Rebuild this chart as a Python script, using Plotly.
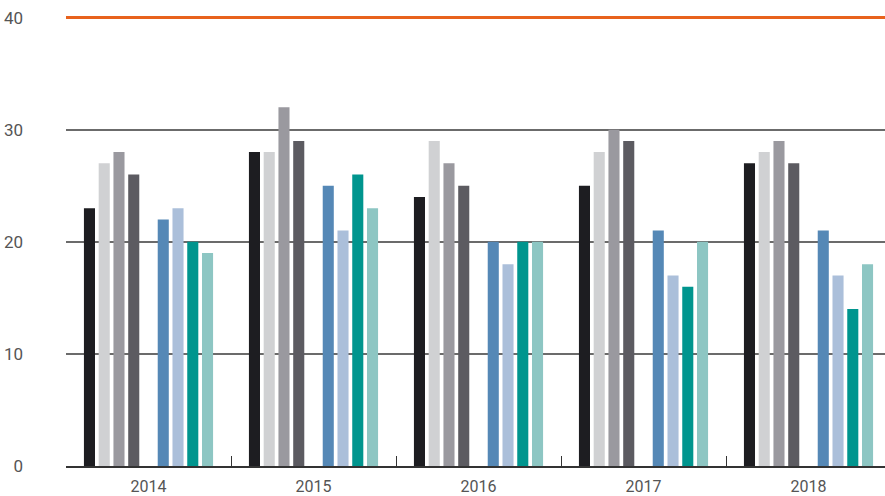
import plotly.graph_objects as go

years = ["2014", "2015", "2016", "2017", "2018"]

gray_1 = [23, 28, 24, 25, 27]
gray_2 = [27, 28, 29, 28, 28]
gray_3 = [28, 32, 27, 30, 29]
gray_4 = [26, 29, 25, 29, 27]

color_1 = [22, 25, 20, 21, 21]
color_2 = [23, 21, 18, 17, 17]
color_3 = [20, 26, 20, 16, 14]
color_4 = [19, 23, 20, 20, 18]

target_value = 40
y_ticks = [0, 10, 20, 30, 40]

series = [
    ("gray_1", gray_1, "#1d1d21"),
    ("gray_2", gray_2, "#d0d1d3"),
    ("gray_3", gray_3, "#9a999f"),
    ("gray_4", gray_4, "#5c5b61"),
    ("gap", [None] * len(years), "rgba(0,0,0,0)"),
    ("color_1", color_1, "#5588b6"),
    ("color_2", color_2, "#abbfda"),
    ("color_3", color_3, "#00958e"),
    ("color_4", color_4, "#8dc6c3"),
]

fig = go.Figure()
for name, vals, col in series:
    fig.add_trace(go.Bar(
        x=years, y=vals, name=name, marker_color=col,
        marker_line_width=0, showlegend=False, hoverinfo="skip" if name == "gap" else None,
    ))

fig.add_shape(type="line", xref="paper", x0=0, x1=1, yref="y",
              y0=target_value, y1=target_value,
              line=dict(color="#e8621c", width=3), layer="above")

font_family = "Roboto, 'Noto Sans', sans-serif"

fig.update_layout(
    width=885, height=496,
    margin=dict(l=66, r=0, t=12, b=30, autoexpand=False),
    paper_bgcolor="white", plot_bgcolor="white",
    barmode="group", bargap=0.195, bargroupgap=0.25,
    font=dict(family=font_family, size=16, color="#555555"),
    xaxis=dict(
        type="category", range=[-0.5, 4.4636], automargin=False,
        tickson="boundaries", ticks="inside", ticklen=10, tickwidth=1.2,
        tickcolor="#333333", showgrid=False,
        showline=True, linecolor="#333333", linewidth=1.5,
        tickfont=dict(size=16, color="#555555"), ticklabelstandoff=5,
    ),
    yaxis=dict(
        range=[0, 40.5], tickvals=y_ticks, showgrid=True, automargin=False,
        gridcolor="#6b6b6b", gridwidth=1.5, zeroline=False,
        showline=False, ticks="", ticklabelstandoff=42,
        tickfont=dict(size=17, color="#555555"),
    ),
)

fig.write_html("out.html", config={"displayModeBar": False},
               post_script="document.body.style.margin='0';")
